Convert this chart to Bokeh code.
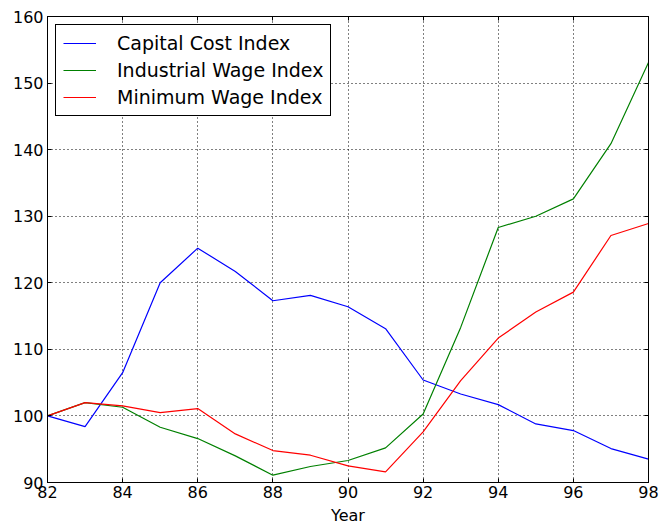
from bokeh.plotting import figure
from bokeh.models import FixedTicker, LinearAxis, Range1d, Legend, LegendItem, CustomJSTickFormatter
from bokeh.embed import file_html
from bokeh.resources import INLINE

years = [82, 83, 84, 85, 86, 87, 88, 89, 90, 91, 92, 93, 94, 95, 96, 97, 98]
capital_cost = [100.0, 98.4, 106.5, 120.0, 125.2, 121.7, 117.3, 118.1, 116.4, 113.1, 105.4, 103.3, 101.7, 98.8, 97.8, 95.1, 93.5]
industrial_wage = [100.0, 102.0, 101.3, 98.3, 96.6, 94.0, 91.1, 92.4, 93.3, 95.2, 100.3, 113.3, 128.3, 130.0, 132.6, 140.9, 153.1]
minimum_wage = [100.0, 102.0, 101.5, 100.5, 101.1, 97.3, 94.8, 94.1, 92.5, 91.6, 97.6, 105.3, 111.7, 115.6, 118.6, 127.1, 128.9]
x_ticks = [82, 84, 86, 88, 90, 92, 94, 96, 98]
y_ticks = [90, 100, 110, 120, 130, 140, 150, 160]

FONT = "DejaVu Sans"

p = figure(width=660, height=527, output_backend="svg", toolbar_location=None,
           x_range=Range1d(82, 98), y_range=Range1d(90, 160),
           min_border_left=47, min_border_right=12, min_border_top=16, min_border_bottom=45)
p.outline_line_color = "black"
p.outline_line_width = 1
p.background_fill_color = "white"
p.border_fill_color = "white"

for ax in (p.xaxis[0], p.yaxis[0]):
    ax.major_tick_in = 4
    ax.major_tick_out = 0
    ax.minor_tick_in = 0
    ax.minor_tick_out = 0
    ax.axis_line_color = "black"
    ax.major_label_text_font = FONT
    ax.major_label_text_font_size = "16px"
    ax.major_label_text_color = "black"
p.xaxis[0].ticker = FixedTicker(ticks=x_ticks)
p.yaxis[0].ticker = FixedTicker(ticks=y_ticks)
p.xaxis[0].axis_label = "Year"
p.xaxis[0].axis_label_text_font = FONT
p.xaxis[0].axis_label_text_font_size = "16px"
p.xaxis[0].axis_label_text_font_style = "normal"
p.xaxis[0].axis_label_text_color = "black"
p.xaxis[0].axis_label_standoff = 5
p.xaxis[0].major_label_standoff = 3
p.yaxis[0].major_label_standoff = 4

empty = CustomJSTickFormatter(code="return '';")
top = LinearAxis(ticker=FixedTicker(ticks=x_ticks), major_tick_in=4, major_tick_out=0,
                 minor_tick_in=0, minor_tick_out=0, formatter=empty,
                 major_label_standoff=0, axis_line_color="black")
right = LinearAxis(ticker=FixedTicker(ticks=y_ticks), major_tick_in=4, major_tick_out=0,
                   minor_tick_in=0, minor_tick_out=0, formatter=empty,
                   major_label_standoff=0, axis_line_color="black")
p.add_layout(top, "above")
p.add_layout(right, "right")

p.grid.grid_line_color = "black"
p.grid.grid_line_dash = "1 3"
p.grid.grid_line_width = 1
p.xgrid.ticker = FixedTicker(ticks=x_ticks)
p.ygrid.ticker = FixedTicker(ticks=y_ticks)

r1 = p.line(years, capital_cost, line_color="#0000ff", line_width=1.2)
r2 = p.line(years, industrial_wage, line_color="#008000", line_width=1.2)
r3 = p.line(years, minimum_wage, line_color="#ff0000", line_width=1.2)

legend = Legend(items=[
    LegendItem(label="Capital Cost Index", renderers=[r1]),
    LegendItem(label="Industrial Wage Index", renderers=[r2]),
    LegendItem(label="Minimum Wage Index", renderers=[r3]),
], location="top_left")
legend.label_text_font = FONT
legend.label_text_font_size = "19px"
legend.label_text_color = "black"
legend.border_line_color = "black"
legend.border_line_width = 1
legend.border_line_alpha = 1
legend.background_fill_alpha = 1
legend.margin = 8
legend.padding = 7
legend.spacing = 5
legend.glyph_width = 33
legend.label_standoff = 21
legend.label_height = 22
legend.glyph_height = 22
p.add_layout(legend)

open("out.html", "w").write(file_html(p, INLINE))
